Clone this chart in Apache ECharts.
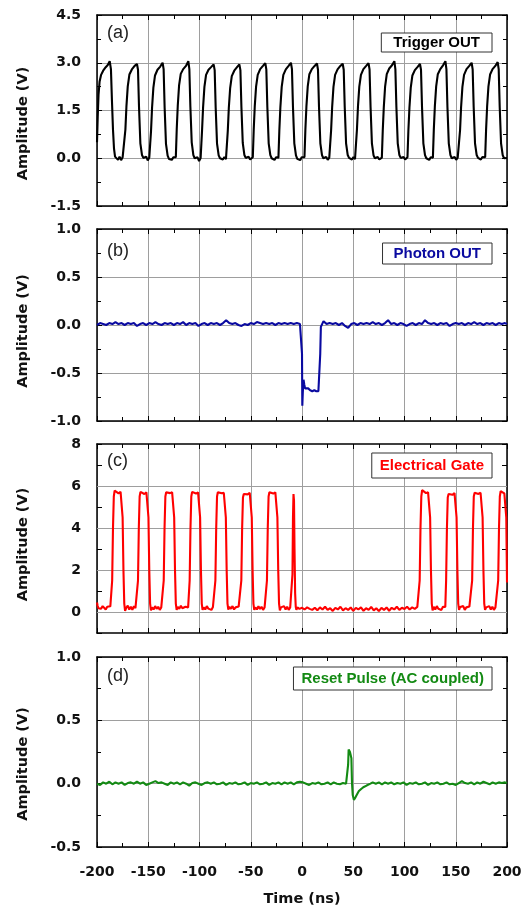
<!DOCTYPE html>
<html>
<head>
<meta charset="utf-8">
<script src="https://cdn.jsdelivr.net/npm/echarts@6.0.0/dist/echarts.min.js"></script>
<style>
  html, body { margin: 0; padding: 0; background: #fff; }
  #chart { width: 526px; height: 909px; }
</style>
</head>
<body>
<div id="chart"></div>
<script>
// ---- data: [time (ns), amplitude (V)] ----
const seriesNames = ['Trigger OUT', 'Photon OUT', 'Electrical Gate', 'Reset Pulse (AC coupled)'];
const panelTags = ['(a)', '(b)', '(c)', '(d)'];

const xMin = -200, xMax = 200, xStep = 50;
const yMin = [-1.5, -1, -1, -0.5];
const yMax = [4.5, 1, 8, 1];
const yStep = [1.5, 0.5, 1, 0.5];
const yDecimals = [1, 1, 0, 1];
const gateGridLevels = [0, 2, 4, 6];

const trigger = [
  [-200,0.5],[-199.3,1.3],[-198.5,2.0],[-197.5,2.4],[-196,2.62],[-194,2.75],[-191.5,2.86],[-189.5,2.93],[-187.6,3.05],[-186.4,2.8],[-185.4,1.8],[-184.4,0.9],[-183.4,0.3],[-182.4,0.05],[-181,0.02],[-179.5,-0.05],[-178,0.05],[-176.5,-0.06],[-175,0.03],[-173.9,0.0],
  [-173.2,0.03],[-172.3,0.9],[-171.3,1.62],[-170.0,2.26],[-168.4,2.63],[-166.0,2.79],[-163.3,2.9],[-161.0,2.96],[-160.0,2.78],[-159.0,1.6],[-157.7,0.47],[-156.1,0.1],[-154.8,0.01],[-153.5,-0.04],[-152.0,0.05],[-150.5,-0.07],[-149.0,0.02],
  [-148.2,0.02],[-147.3,0.85],[-146.3,1.58],[-145.0,2.22],[-143.4,2.6],[-141.0,2.78],[-138.3,2.88],[-136.0,3.0],[-135.0,2.8],[-134.0,1.58],[-132.7,0.45],[-131.1,0.08],[-129.8,-0.02],[-128.5,0.04],[-127.0,-0.05],[-125.5,0.03],[-124.0,-0.02],
  [-123.1,0.03],[-122.2,0.92],[-121.2,1.65],[-119.9,2.3],[-118.3,2.65],[-115.9,2.8],[-113.2,2.9],[-110.9,3.05],[-109.9,2.8],[-108.9,1.62],[-107.6,0.5],[-106.0,0.1],[-104.7,0.0],[-103.4,-0.06],[-101.9,0.03],[-100.4,-0.09],[-98.9,0.01],
  [-98.4,0.02],[-97.5,0.88],[-96.5,1.6],[-95.2,2.24],[-93.6,2.62],[-91.2,2.78],[-88.5,2.87],[-86.2,2.95],[-85.2,2.77],[-84.2,1.58],[-82.9,0.46],[-81.3,0.09],[-80.0,0.0],[-78.7,0.05],[-77.2,-0.04],[-75.7,0.04],[-74.2,-0.03],
  [-73.3,0.02],[-72.4,0.86],[-71.4,1.58],[-70.1,2.2],[-68.5,2.58],[-66.1,2.75],[-63.4,2.86],[-61.1,2.95],[-60.1,2.77],[-59.1,1.6],[-57.8,0.48],[-56.2,0.1],[-54.9,0.01],[-53.6,-0.05],[-52.1,0.05],[-50.6,-0.04],[-49.1,0.02],
  [-48.0,0.03],[-47.1,0.9],[-46.1,1.62],[-44.8,2.25],[-43.2,2.62],[-40.8,2.8],[-38.1,2.9],[-35.8,2.99],[-34.8,2.79],[-33.8,1.6],[-32.5,0.47],[-30.9,0.1],[-29.6,0.0],[-28.3,0.05],[-26.8,-0.05],[-25.3,0.03],[-23.8,-0.02],
  [-23.0,0.02],[-22.1,0.88],[-21.1,1.6],[-19.8,2.24],[-18.2,2.62],[-15.8,2.79],[-13.1,2.9],[-10.8,3.0],[-9.8,2.8],[-8.8,1.6],[-7.5,0.47],[-5.9,0.09],[-4.6,-0.02],[-3.3,0.04],[-1.8,-0.06],[-0.3,0.03],[1.2,-0.02],
  [2.4,0.03],[3.3,0.9],[4.3,1.62],[5.6,2.26],[7.2,2.64],[9.6,2.8],[12.3,2.9],[14.6,2.98],[15.6,2.78],[16.6,1.6],[17.9,0.47],[19.5,0.1],[20.8,0.0],[22.1,-0.06],[23.6,0.04],[25.1,-0.05],[26.6,0.02],
  [27.5,0.02],[28.4,0.88],[29.4,1.6],[30.7,2.24],[32.3,2.62],[34.7,2.79],[37.4,2.9],[39.7,2.97],[40.7,2.78],[41.7,1.6],[43.0,0.47],[44.6,0.1],[45.9,0.01],[47.2,0.05],[48.7,-0.04],[50.2,0.04],[51.7,-0.03],
  [52.7,0.03],[53.6,0.9],[54.6,1.62],[55.9,2.25],[57.5,2.62],[59.9,2.8],[62.6,2.9],[64.9,2.99],[65.9,2.79],[66.9,1.6],[68.2,0.47],[69.8,0.09],[71.1,0.0],[72.4,-0.05],[73.9,0.04],[75.4,-0.04],[76.9,0.02],
  [77.9,0.02],[78.8,0.88],[79.8,1.6],[81.1,2.26],[82.7,2.64],[85.1,2.82],[87.8,2.92],[90.1,3.05],[91.1,2.8],[92.1,1.6],[93.4,0.47],[95.0,0.1],[96.3,0.01],[97.6,-0.05],[99.1,0.04],[100.6,-0.04],[102.1,0.02],
  [102.9,0.03],[103.8,0.88],[104.8,1.58],[106.1,2.22],[107.7,2.6],[110.1,2.77],[112.8,2.87],[115.1,2.96],[116.1,2.78],[117.1,1.6],[118.4,0.47],[120.0,0.1],[121.3,0.0],[122.6,0.05],[124.1,-0.05],[125.6,0.03],[127.1,-0.02],
  [127.7,0.02],[128.6,0.9],[129.6,1.62],[130.9,2.26],[132.5,2.64],[134.9,2.8],[137.6,2.92],[139.9,3.05],[140.9,2.8],[141.9,1.6],[143.2,0.47],[144.8,0.1],[146.1,0.0],[147.4,-0.06],[148.9,0.04],[150.4,-0.05],[151.9,0.02],
  [153.3,0.02],[154.2,0.88],[155.2,1.6],[156.5,2.24],[158.1,2.62],[160.5,2.8],[163.2,2.9],[165.5,3.0],[166.5,2.79],[167.5,1.6],[168.8,0.47],[170.4,0.1],[171.7,0.01],[173.0,0.05],[174.5,-0.04],[176.0,0.04],[177.5,-0.02],
  [178.7,0.03],[179.6,0.9],[180.6,1.62],[181.9,2.26],[183.5,2.63],[185.9,2.8],[188.6,2.9],[190.9,3.02],[191.9,2.8],[192.9,1.6],[194.2,0.47],[195.8,0.1],[197.1,0.0],[198.5,-0.05],[200,0.01]
];

const photon = [
  [-200,0.0],[-197,0.02],[-194,0.01],[-191,0.0],[-188,0.02],[-185,0.01],[-182,0.03],[-179,0.01],[-176,0.02],[-173,0.0],[-170,0.02],[-167,0.01],[-164,0.02],[-161,-0.01],[-158,0.01],[-155,0.02],[-152,0.0],[-149,0.02],[-146,0.01],[-143,0.03],[-140,0.01],[-137,0.0],[-134,0.02],[-131,0.01],[-128,0.02],[-125,0.0],[-122,0.02],[-119,0.01],[-116,0.03],[-113,0.0],[-110,0.02],[-107,0.01],[-104,0.02],[-101,-0.01],[-98,0.01],[-95,0.02],[-92,0.0],[-89,0.02],[-86,0.01],[-83,0.02],[-80,0.0],[-77,0.02],[-74,0.05],[-71,0.02],[-68,0.01],[-65,0.02],[-62,0.0],[-59,-0.01],[-56,0.01],[-53,0.0],[-50,0.02],[-47,0.01],[-44,0.03],[-41,0.02],[-38,0.01],[-35,0.02],[-32,0.01],[-29,0.02],[-26,0.0],[-23,0.02],[-20,0.01],[-17,0.02],[-14,0.01],[-11,0.02],[-8,0.01],[-5,0.02],[-2,0.01],[-0.4,0.02],
  [0,-0.3],[0.3,-0.84],[0.8,-0.7],[1.5,-0.57],[2.2,-0.62],[3,-0.66],[4.5,-0.67],[6,-0.66],[8,-0.68],[10,-0.69],[12,-0.68],[14,-0.69],[16,-0.69],[17.2,-0.68],[17.8,-0.3],[18.4,-0.02],[19.5,0.0],[21,0.04],[22.5,0.03],[24,0.01],
  [27,0.02],[30,0.01],[33,0.02],[36,0.0],[39,0.02],[42,-0.01],[45,-0.03],[48,0.01],[51,0.02],[54,0.0],[57,0.02],[60,0.01],[63,0.02],[66,0.01],[69,0.03],[72,0.01],[75,0.02],[78,0.0],[81,0.02],[84,0.05],[87,0.01],[90,0.02],[93,0.0],[96,0.02],[99,0.01],[102,-0.01],[105,0.01],[108,0.02],[111,0.0],[114,0.02],[117,0.01],[120,0.05],[123,0.02],[126,0.01],[129,0.02],[132,0.0],[135,0.02],[138,0.01],[141,0.02],[144,-0.01],[147,0.01],[150,0.02],[153,0.01],[156,0.02],[159,0.0],[162,0.02],[165,0.01],[168,0.03],[171,0.01],[174,0.02],[177,0.0],[180,0.02],[183,0.01],[186,0.02],[189,0.0],[192,0.02],[195,0.01],[198,0.02],[200,0.01]
];

const gate = [
  [-200,0.45],[-199.4,0.3],[-198.6,0.18],[-197.5,0.25],[-196,0.15],[-194.5,0.28],[-193,0.2],[-191.5,0.12],[-190,0.25],[-188.5,0.2],[-187,0.27],
  [-186,0.25],[-185.2,1.5],[-184.4,4.0],[-183.6,5.5],[-182.8,5.78],[-181,5.7],[-179,5.65],[-177,5.72],[-175.8,5.65],[-175,4.5],[-174.2,2.0],[-173.4,0.4],[-172.6,0.05],[-171.5,0.2],[-170,0.3],[-168.5,0.12],[-167,0.25],[-165.5,0.1],[-164,0.28],[-162.5,0.18],[-161.5,0.25],
  [-160.8,0.25],[-160,1.5],[-159.2,4.0],[-158.4,5.5],[-157.6,5.72],[-155.8,5.7],[-153.8,5.62],[-151.8,5.7],[-150.6,5.66],[-149.8,4.5],[-149,2.0],[-148.2,0.4],[-147.4,0.08],[-146.3,0.22],[-144.8,0.12],[-143.3,0.28],[-141.8,0.15],[-140.3,0.25],[-138.8,0.1],[-137.3,0.22],[-136.4,0.2],
  [-135.7,0.24],[-134.9,1.5],[-134.1,4.0],[-133.3,5.5],[-132.5,5.7],[-130.7,5.68],[-128.7,5.66],[-126.7,5.7],[-125.5,5.65],[-124.7,4.5],[-123.9,2.0],[-123.1,0.4],[-122.3,0.1],[-121.2,0.25],[-119.7,0.15],[-118.2,0.3],[-116.7,0.18],[-115.2,0.1],[-113.7,0.25],[-112.2,0.2],[-111.1,0.22],
  [-110.4,0.25],[-109.6,1.5],[-108.8,4.0],[-108,5.5],[-107.2,5.72],[-105.4,5.68],[-103.4,5.64],[-101.4,5.7],[-100.2,5.66],[-99.4,4.5],[-98.6,2.0],[-97.8,0.4],[-97,0.1],[-95.9,0.22],[-94.4,0.12],[-92.9,0.28],[-91.4,0.16],[-89.9,0.25],[-88.4,0.1],[-86.9,0.24],[-86,0.2],
  [-85.3,0.24],[-84.5,1.5],[-83.7,4.0],[-82.9,5.5],[-82.1,5.7],[-80.3,5.68],[-78.3,5.65],[-76.3,5.68],[-75.1,5.65],[-74.3,4.5],[-73.5,2.0],[-72.7,0.4],[-71.9,0.12],[-70.8,0.25],[-69.3,0.15],[-67.8,0.28],[-66.3,0.12],[-64.8,0.22],[-63.3,0.18],[-61.8,0.26],[-60.7,0.2],
  [-60,0.25],[-59.2,1.5],[-58.4,4.0],[-57.6,5.45],[-56.8,5.62],[-55,5.66],[-53,5.6],[-51,5.68],[-49.8,5.62],[-49,4.5],[-48.2,2.0],[-47.4,0.4],[-46.6,0.1],[-45.5,0.22],[-44,0.12],[-42.5,0.27],[-41,0.15],[-39.5,0.25],[-38,0.1],[-36.5,0.22],[-35.6,0.2],
  [-35,0.25],[-34.2,1.5],[-33.4,4.0],[-32.6,5.5],[-31.8,5.7],[-30,5.68],[-28,5.64],[-26,5.7],[-24.8,5.66],[-24,4.5],[-23.2,2.0],[-22.4,0.4],[-21.6,0.08],[-20.5,0.22],[-19,0.14],[-17.5,0.28],[-16,0.12],[-14.5,0.25],[-13,0.1],[-11.5,0.22],[-10.5,0.2],
  [-9.9,0.24],[-9.3,1.8],[-8.8,4.5],[-8.3,5.62],[-7.8,5.3],[-7.3,3.0],[-6.7,0.9],[-6.1,0.25],[-5.5,0.1],
  [-4.5,0.22],[-2.5,0.15],[0,0.2],[2.5,0.12],[5,0.22],[7.5,0.15],[10,0.1],[12.5,0.2],[15,0.08],[17.5,0.22],[20,0.12],[22.5,0.25],[25,0.1],[27.5,0.18],[30,0.05],[32.5,0.2],[35,0.12],[37.5,0.25],[40,0.08],[42.5,0.18],[45,0.1],[47.5,0.22],[50,0.05],[52.5,0.2],[55,0.12],[57.5,0.22],[60,0.06],[62.5,0.18],[65,0.1],[67.5,0.24],[70,0.08],[72.5,0.18],[75,0.04],[77.5,0.2],[80,0.1],[82.5,0.22],[85,0.06],[87.5,0.2],[90,0.12],[92.5,0.25],[95,0.1],[97.5,0.2],[100,0.14],[102.5,0.25],[105,0.12],[107.5,0.22],[110,0.15],[112.5,0.24],
  [114,0.25],[114.8,1.5],[115.6,4.0],[116.4,5.5],[117.2,5.8],[119,5.72],[121,5.66],[123,5.7],[124.2,5.62],[125,4.5],[125.8,2.0],[126.6,0.4],[127.4,0.08],[128.5,0.25],[130,0.12],[131.5,0.28],[133,0.15],[134.5,0.22],[136,0.1],[137.5,0.25],[139,0.2],
  [139.8,0.24],[140.6,1.5],[141.4,4.0],[142.2,5.45],[143,5.62],[144.8,5.66],[146.8,5.58],[148.8,5.66],[150,5.62],[150.8,4.5],[151.6,2.0],[152.4,0.4],[153.2,0.1],[154.3,0.24],[155.8,0.15],[157.3,0.28],[158.8,0.1],[160.3,0.22],[161.8,0.15],[163.3,0.26],[164.5,0.2],
  [165.2,0.25],[166,1.5],[166.8,4.0],[167.6,5.5],[168.4,5.68],[170.2,5.66],[172.2,5.62],[174.2,5.68],[175.4,5.65],[176.2,4.5],[177,2.0],[177.8,0.4],[178.6,0.1],[179.7,0.22],[181.2,0.14],[182.7,0.28],[184.2,0.12],[185.7,0.25],[187.2,0.1],[188.7,0.22],[189.9,0.2],
  [190.6,0.25],[191.4,1.5],[192.2,4.0],[193,5.5],[193.8,5.75],[195.6,5.7],[197.4,5.65],[198.6,5.72],[199.3,4.5],[200,1.4]
];

const reset = [
  [-200,0.0],[-197,-0.01],[-194,0.01],[-191,0.0],[-188,0.015],[-185,-0.005],[-182,0.01],[-179,0.0],[-176,0.01],[-173,-0.01],[-170,0.005],[-167,0.01],[-164,0.0],[-161,0.015],[-158,0.0],[-155,0.01],[-152,-0.01],[-149,0.0],[-146,0.01],[-143,0.02],[-140,0.005],[-137,0.01],[-134,0.0],[-131,-0.01],[-128,0.01],[-125,0.0],[-122,0.01],[-119,-0.005],[-116,0.01],[-113,0.0],[-110,-0.015],[-107,0.005],[-104,0.01],[-101,0.0],[-98,-0.01],[-95,0.005],[-92,0.01],[-89,0.0],[-86,0.01],[-83,-0.005],[-80,0.0],[-77,0.01],[-74,-0.01],[-71,0.005],[-68,0.0],[-65,0.01],[-62,-0.005],[-59,0.0],[-56,0.01],[-53,-0.01],[-50,0.005],[-47,0.0],[-44,0.01],[-41,-0.005],[-38,0.0],[-35,0.01],[-32,-0.01],[-29,0.005],[-26,0.0],[-23,0.01],[-20,-0.005],[-17,0.01],[-14,0.0],[-11,0.01],[-8,-0.005],[-5,0.01],[-2,0.015],[1,0.01],[4,0.0],[7,-0.01],[10,0.005],[13,0.0],[16,0.01],[19,-0.005],[22,0.0],[25,0.01],[28,-0.005],[31,0.01],[34,0.0],[37,-0.005],[40,0.005],[43,0.0],
  [44.3,0.0],[45.0,0.15],[45.5,0.27],[46.1,0.275],[46.8,0.25],[47.7,0.262],[48.2,0.2],[48.8,0.0],[49.5,-0.09],[50.6,-0.128],[51.5,-0.12],[52.3,-0.106],[54,-0.08],[55.5,-0.058],[58,-0.04],[60.3,-0.026],[63,-0.015],[66.8,0.0],[69,0.01],
  [72,0.0],[75,0.01],[78,-0.005],[81,0.01],[84,0.0],[87,0.01],[90,-0.005],[93,0.005],[96,0.0],[99,0.01],[102,-0.01],[105,0.005],[108,0.0],[111,0.01],[114,-0.005],[117,0.0],[120,0.01],[123,-0.01],[126,0.005],[129,0.0],[132,0.01],[135,-0.005],[138,0.0],[141,0.01],[144,-0.005],[147,0.0],[150,-0.01],[153,0.005],[156,0.02],[159,0.005],[162,0.0],[165,0.01],[168,-0.005],[171,0.01],[174,0.0],[177,0.015],[180,0.005],[183,-0.005],[186,0.01],[189,0.0],[192,0.01],[195,0.005],[198,0.01],[200,0.005]
];

const traces = [trigger, photon, gate, reset];

// ---- layout / style ----
const colors = ['#000000', '#0a0aa0', '#ff0000', '#138a13'];
const gridTops = [15, 229, 444, 657];
const gridHeights = [191, 192, 189, 190];
const legendTops = [33, 243, 453, 667];
const legendPads = [[2, 12, 2, 7], [3, 11, 3, 6], [5, 8, 5, 3], [4, 8, 4, 3]];
const tagTops = [24, 242, 452, 667];
const nameShift = [13, 6, 6, 12];   // y-axis titles sit a little below the panel centre
const gridColor = '#9e9e9e';
const tickFont = { fontFamily: 'DejaVu Sans', fontWeight: 'bold', fontSize: 14, color: '#111' };

const chart = echarts.init(document.getElementById('chart'));

const grid = [], xAxis = [], yAxis = [], series = [], legend = [], graphic = [];

traces.forEach((data, i) => {
  grid.push({ left: 97, right: 19, top: gridTops[i], height: gridHeights[i] });

  const tick = { inside: true, length: 5, lineStyle: { color: '#000', width: 1 } };
  const line = { onZero: false, lineStyle: { color: '#000', width: 1.5 } };
  const last = i === traces.length - 1;

  xAxis.push({
    type: 'value', gridIndex: i, position: 'bottom',
    min: xMin, max: xMax, interval: xStep,
    axisLine: line, axisTick: tick,
    minorTick: { show: true, splitNumber: 2, length: 4, lineStyle: { color: '#000' } },
    splitLine: { show: true, lineStyle: { color: gridColor, width: 1 } },
    axisLabel: Object.assign({ show: last, margin: 18 }, tickFont),
    name: last ? 'Time (ns)' : '', nameLocation: 'middle', nameGap: 45,
    nameTextStyle: { fontFamily: 'DejaVu Sans', fontWeight: 'bold', fontSize: 14.5, color: '#111' }
  });
  xAxis.push({
    type: 'value', gridIndex: i, position: 'top',
    min: xMin, max: xMax, interval: xStep,
    axisLine: line, axisTick: tick,
    minorTick: { show: true, splitNumber: 2, length: 4, lineStyle: { color: '#000' } },
    splitLine: { show: false }, axisLabel: { show: false }
  });

  const isGate = i === 2;
  yAxis.push({
    type: 'value', gridIndex: i, position: 'left',
    min: yMin[i], max: yMax[i], interval: yStep[i],
    axisLine: line, axisTick: tick,
    minorTick: { show: !isGate, splitNumber: 2, length: 4, lineStyle: { color: '#000' } },
    splitLine: { show: !isGate, lineStyle: { color: gridColor, width: 1 } },
    axisLabel: Object.assign({
      margin: 16,
      formatter: v => (isGate && Math.round(v) % 2 !== 0) ? '' : v.toFixed(yDecimals[i])
    }, tickFont),
    name: 'Amplitude (V)', nameLocation: 'middle', nameGap: 66,
    nameTextStyle: {
      fontFamily: 'DejaVu Sans', fontWeight: 'bold', fontSize: 14.5, color: '#111',
      padding: [0, 2 * nameShift[i], 0, 0]
    }
  });
  yAxis.push({
    type: 'value', gridIndex: i, position: 'right',
    min: yMin[i], max: yMax[i], interval: yStep[i],
    axisLine: line, axisTick: tick,
    minorTick: { show: !isGate, splitNumber: 2, length: 4, lineStyle: { color: '#000' } },
    splitLine: { show: false }, axisLabel: { show: false }
  });

  series.push({
    name: seriesNames[i], type: 'line', data: data,
    xAxisIndex: 2 * i, yAxisIndex: 2 * i,
    showSymbol: false, z: 3,
    lineStyle: { color: colors[i], width: 2.1 }, itemStyle: { color: colors[i] }
  });

  legend.push({
    data: [seriesNames[i]], right: 34, top: legendTops[i],
    icon: 'rect', itemWidth: 0, itemHeight: 0, selectedMode: false,
    backgroundColor: '#fff', borderColor: '#333', borderWidth: 1,
    padding: legendPads[i],
    textStyle: { color: colors[i], fontFamily: 'Liberation Sans', fontWeight: 'bold', fontSize: 15 }
  });

  graphic.push({
    type: 'text', left: 107, top: tagTops[i],
    style: { text: panelTags[i], font: '18px "Liberation Sans"', fill: '#222' }
  });
});

// horizontal grid lines of panel (c) sit on every second tick
series.push({
  type: 'line', data: [], xAxisIndex: 4, yAxisIndex: 4, z: 1,
  markLine: {
    silent: true, z: 1, symbol: ['none', 'none'], label: { show: false },
    lineStyle: { color: gridColor, type: 'solid', width: 1 },
    emphasis: { disabled: true },
    data: gateGridLevels.map(v => ({ yAxis: v }))
  }
});

chart.setOption({
  animation: false,
  backgroundColor: '#fff',
  grid, xAxis, yAxis, series, legend, graphic
});
</script>
</body>
</html>
